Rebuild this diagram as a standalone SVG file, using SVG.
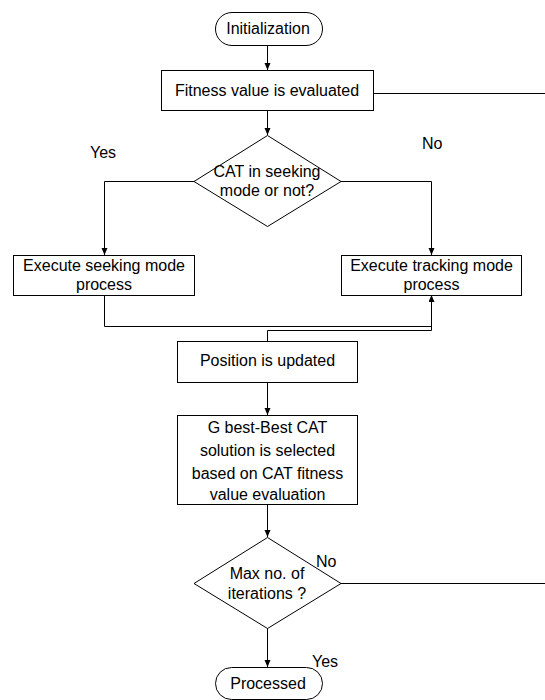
<svg xmlns="http://www.w3.org/2000/svg" width="545" height="700" viewBox="0 0 545 700">
<style>
.n{fill:#fff;stroke:#000;stroke-width:1}
.t{font-family:"Liberation Sans",Arial,sans-serif;font-size:16px;fill:#000;text-anchor:middle}
.l{font-family:"Liberation Sans",Arial,sans-serif;font-size:16px;fill:#000}
.c{fill:none;stroke:#000;stroke-width:1}
</style>
<defs>
<marker id="ah" markerUnits="userSpaceOnUse" markerWidth="8" markerHeight="7" refX="7" refY="3" orient="auto">
<path d="M0,0 L7,3 L0,6 z" fill="#000"/>
</marker>
</defs>
<rect width="545" height="700" fill="#fff"/>
<g id="connectors">
<path class="c" d="M267.5,45 V70" marker-end="url(#ah)"/>
<path class="c" d="M267.5,110 V135" marker-end="url(#ah)"/>
<path class="c" d="M373,93.5 H545"/>
<path class="c" d="M194,181.5 H104.5 V255" marker-end="url(#ah)"/>
<path class="c" d="M341,181.5 H431.5 V255" marker-end="url(#ah)"/>
<path class="c" d="M104.5,295 V326.5 H431.5"/>
<path class="c" d="M267.5,341 V330.5 H431.5 V295" marker-end="url(#ah)"/>
<path class="c" d="M267.5,382 V415" marker-end="url(#ah)"/>
<path class="c" d="M267.5,504 V537" marker-end="url(#ah)"/>
<path class="c" d="M341,583.5 H545"/>
<path class="c" d="M267.5,628 V667" marker-end="url(#ah)"/>
</g>
<g id="labels">
<text class="l" x="90" y="158">Yes</text>
<text class="l" x="422" y="149">No</text>
<text class="l" x="316" y="567">No</text>
<text class="l" x="312" y="667">Yes</text>
</g>
<g id="init">
<rect class="n" x="215.5" y="12.5" width="107" height="33" rx="16.5"/>
<text class="t" x="268" y="34">Initialization</text>
</g>
<g id="fitness">
<rect class="n" x="161.5" y="70.5" width="212" height="40"/>
<text class="t" x="267" y="96">Fitness value is evaluated</text>
</g>
<g id="decision1">
<polygon class="n" points="267.5,135.5 341,181.5 267.5,226.5 194,181.5"/>
<text class="t" x="267" y="177">CAT in seeking</text>
<text class="t" x="267" y="196">mode or not?</text>
</g>
<g id="seeking">
<rect class="n" x="13.5" y="255.5" width="181" height="40"/>
<text class="t" x="104" y="271">Execute seeking mode</text>
<text class="t" x="104" y="290">process</text>
</g>
<g id="tracking">
<rect class="n" x="341.5" y="255.5" width="180" height="40"/>
<text class="t" x="431.5" y="271">Execute tracking mode</text>
<text class="t" x="431.5" y="290">process</text>
</g>
<g id="position">
<rect class="n" x="177.5" y="341.5" width="180" height="41"/>
<text class="t" x="267.5" y="366">Position is updated</text>
</g>
<g id="gbest">
<rect class="n" x="177.5" y="415.5" width="180" height="89"/>
<text class="t" x="267.5" y="433">G best-Best CAT</text>
<text class="t" x="267.5" y="456">solution is selected</text>
<text class="t" x="267.5" y="479">based on CAT fitness</text>
<text class="t" x="267.5" y="500">value evaluation</text>
</g>
<g id="decision2">
<polygon class="n" points="267.5,537.5 341,583.5 267.5,628.5 194,583.5"/>
<text class="t" x="267" y="579">Max no. of</text>
<text class="t" x="267" y="599">iterations ?</text>
</g>
<g id="processed">
<rect class="n" x="215.5" y="667.5" width="107" height="32" rx="16"/>
<text class="t" x="268" y="689">Processed</text>
</g>
</svg>
